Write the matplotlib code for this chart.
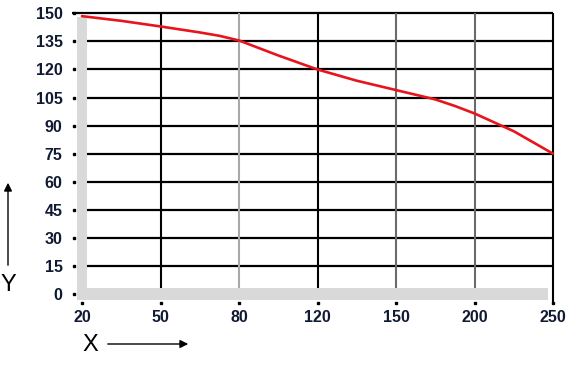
import matplotlib.pyplot as plt

# categories on the x axis (equally spaced)
x_labels = ["20", "50", "80", "120", "150", "200", "250"]
y_ticks = [0, 15, 30, 45, 60, 75, 90, 105, 120, 135, 150]

# curve, x given as category position
curve_x = [0, 0.5, 1, 1.5, 1.75, 2, 2.25, 2.5, 3, 3.5, 4, 4.5, 4.75, 5, 5.5, 6]
curve_y = [148.5, 146, 143, 139.8, 138, 135.5, 131.5, 127.5, 120, 114, 109,
           104, 100.5, 96.5, 87, 75]

# vertical grid colours per category
vcolors = ["none", "black", "#a8a8a8", "black", "#6a6a6a", "#6a6a6a", "black"]

W, H = 570, 374
fig = plt.figure(figsize=(W / 100, H / 100), dpi=100)

px_x = 78.5   # pixels per category step
px_y = 1.871  # pixels per y unit
x0_px, y0_px = 82, 294
left_px, right_px, top_px, bot_px = 68, 566, 5, 303

ax = fig.add_axes([left_px / W, 1 - bot_px / H,
                   (right_px - left_px) / W, (bot_px - top_px) / H])
ax.set_xlim((left_px - x0_px) / px_x, (right_px - x0_px) / px_x)
ax.set_ylim(-(bot_px - y0_px) / px_y, (y0_px - top_px) / px_y)
for s in ax.spines.values():
    s.set_visible(False)

band = "#d9d9d9"
# grey bands on left and bottom
ax.fill_between([-0.064, 0.064], -3.2, 148, color=band, lw=0, zorder=1)
ax.fill_between([-0.064, 5.94], -3.2, 3.2, color=band, lw=0, zorder=1)

# horizontal grid
for v in y_ticks[1:]:
    start = -0.13 if v == 150 else 0.064
    ax.plot([start, 6], [v, v], color="black", lw=1.6, zorder=2,
            solid_capstyle="butt")

# vertical grid
for i, c in enumerate(vcolors):
    if c == "none":
        continue
    bottom = -5.9 if i == 6 else 3.2
    ax.plot([i, i], [bottom, 150], color=c, lw=1.5, zorder=2,
            solid_capstyle="butt")

# small tick dots
ax.plot([-0.1] * len(y_ticks), y_ticks, "s", color="black", ms=1.8, zorder=3,
        clip_on=False)
ax.plot(range(len(x_labels)), [-4.8] * len(x_labels), "s", color="black",
        ms=1.8, zorder=3, clip_on=False)

ax.plot(curve_x, curve_y, color="#e8141c", lw=1.9, zorder=4,
        solid_capstyle="round", solid_joinstyle="round")

ax.set_xticks(range(len(x_labels)))
ax.set_xticklabels(x_labels)
ax.set_yticks(y_ticks)
ax.set_yticklabels([str(v) for v in y_ticks])
ax.tick_params(length=0, labelsize=11.5, labelcolor="#111a33")
ax.tick_params(axis="y", pad=3.8)
ax.tick_params(axis="x", pad=5.0)
for lab in ax.get_xticklabels() + ax.get_yticklabels():
    lab.set_fontfamily("Liberation Sans")
    lab.set_fontweight("bold")

# axis names with arrows
fig.text(8 / W, 1 - 285 / H, "Y", fontsize=17, ha="center", va="center",
         fontfamily="Liberation Sans")
fig.text(90 / W, 1 - 345 / H, "X", fontsize=17, ha="center", va="center",
         fontfamily="Liberation Sans")
ax.annotate("", xy=(8, H - 180), xytext=(8, H - 268),
            xycoords="figure pixels", textcoords="figure pixels",
            arrowprops=dict(arrowstyle="-|>", color="black", lw=1.0,
                            mutation_scale=12))
ax.annotate("", xy=(191, H - 344), xytext=(105, H - 344),
            xycoords="figure pixels", textcoords="figure pixels",
            arrowprops=dict(arrowstyle="-|>", color="black", lw=1.0,
                            mutation_scale=12))

fig.savefig("out.png", dpi=100)
